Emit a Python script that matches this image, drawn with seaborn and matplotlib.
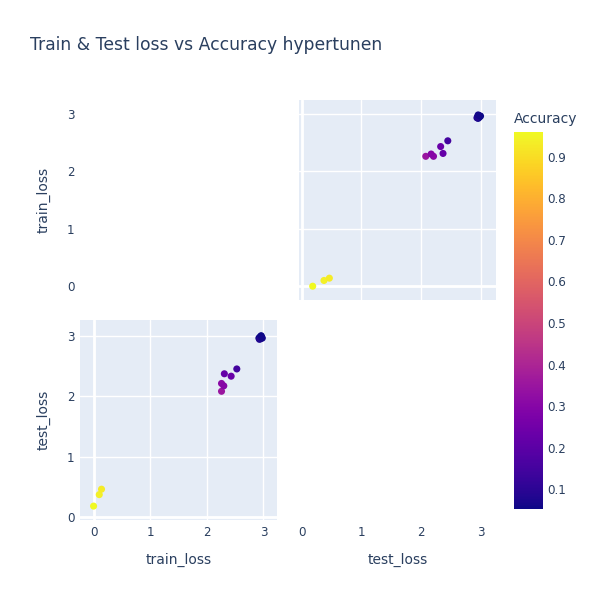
import matplotlib
matplotlib.use("Agg")
import matplotlib.pyplot as plt
import matplotlib as mpl
import numpy as np
import pandas as pd
import seaborn as sns

sns.set_theme(style="white")
plt.rcParams["font.family"] = ["DejaVu Sans"]

# ── Data ────────────────────────────────────────────────────────────
train_loss = [0.00, 0.10, 0.14, 2.26, 2.26, 2.30, 2.31, 2.43, 2.53,
              2.92, 2.94, 2.95, 2.96, 2.97, 2.93, 2.96, 2.98]
test_loss = [0.18, 0.37, 0.46, 2.08, 2.21, 2.17, 2.37, 2.33, 2.45,
             2.96, 2.98, 2.95, 2.99, 2.97, 2.94, 3.00, 2.96]
accuracy = [0.96, 0.94, 0.93, 0.35, 0.31, 0.30, 0.22, 0.23, 0.15,
            0.06, 0.05, 0.07, 0.05, 0.06, 0.08, 0.05, 0.06]
ticks = [0, 1, 2, 3]
cbar_ticks = [0.1, 0.2, 0.3, 0.4, 0.5, 0.6, 0.7, 0.8, 0.9]

df = pd.DataFrame({"train_loss": train_loss, "test_loss": test_loss,
                   "Accuracy": accuracy})

BG = "#E5ECF6"
TXT = "#2a3f5f"
W, H = 600, 600
norm = mpl.colors.Normalize(vmin=0.052, vmax=0.96)


def box(x0, y0, x1, y1):
    # pixel box -> figure fraction
    return [x0 / W, 1 - y1 / H, (x1 - x0) / W, (y1 - y0) / H]


fig = plt.figure(figsize=(6, 6), dpi=100)

ax_ll = fig.add_axes(box(80, 320, 277, 520))   # x=train, y=test
ax_ur = fig.add_axes(box(299, 100, 496, 300))  # x=test, y=train
ax_ul = fig.add_axes(box(80, 100, 277, 300))   # only y ticks for row 1
ax_lr = fig.add_axes(box(299, 320, 496, 520))  # only x ticks for col 2

rng_train = (-0.24, 3.24)
rng_test = (-0.05, 3.26)

for ax, xcol, ycol, xr, yr in [(ax_ll, "train_loss", "test_loss", rng_train, rng_test),
                               (ax_ur, "test_loss", "train_loss", rng_test, rng_train)]:
    ax.set_facecolor(BG)
    sns.scatterplot(data=df, x=xcol, y=ycol, hue="Accuracy", palette="plasma",
                    hue_norm=norm, s=26, linewidth=0, legend=False, ax=ax, zorder=3)
    ax.set_xlim(*xr)
    ax.set_ylim(*yr)
    ax.set_xticks(ticks)
    ax.set_yticks(ticks)
    ax.grid(True, color="white", linewidth=1)
    ax.axhline(0, color="white", linewidth=2, zorder=1)
    ax.axvline(0, color="white", linewidth=2, zorder=1)
    for s in ax.spines.values():
        s.set_visible(False)
    ax.set_xlabel("")
    ax.set_ylabel("")
    ax.tick_params(length=0, labelsize=8.6, colors=TXT, pad=4)

ax_ur.tick_params(labelleft=False, labelbottom=False)

# phantom axes that carry the tick labels of the hidden diagonal cells
ax_ul.set_ylim(*rng_train)
ax_ul.set_yticks(ticks)
ax_ul.set_xticks([])
ax_lr.set_xlim(*rng_test)
ax_lr.set_xticks(ticks)
ax_lr.set_yticks([])
for ax in (ax_ul, ax_lr):
    ax.set_facecolor("none")
    for s in ax.spines.values():
        s.set_visible(False)
    ax.tick_params(length=0, labelsize=8.6, colors=TXT, pad=4)

lab = dict(fontsize=10, color=TXT)
ax_ul.set_ylabel("train_loss", labelpad=12, **lab)
ax_ll.set_ylabel("test_loss", labelpad=12, **lab)
ax_ll.set_xlabel("train_loss", labelpad=10, **lab)
ax_lr.set_xlabel("test_loss", labelpad=10, **lab)

# colorbar
cax = fig.add_axes(box(514, 132, 543, 509))
sm = mpl.cm.ScalarMappable(norm=norm, cmap="plasma")
cb = fig.colorbar(sm, cax=cax, ticks=cbar_ticks)
cb.outline.set_visible(False)
cb.ax.tick_params(length=0, labelsize=8.6, colors=TXT, pad=3)
cb.ax.set_yticklabels([f"{t:.1f}" for t in cbar_ticks])
fig.text(514 / W, 1 - 119 / H, "Accuracy", fontsize=10, color=TXT,
         ha="left", va="center")

fig.text(30 / W, 1 - 45 / H, "Train & Test loss vs Accuracy hypertunen",
         fontsize=12.3, color=TXT, ha="left", va="center")

fig.savefig("out.png", dpi=100)
